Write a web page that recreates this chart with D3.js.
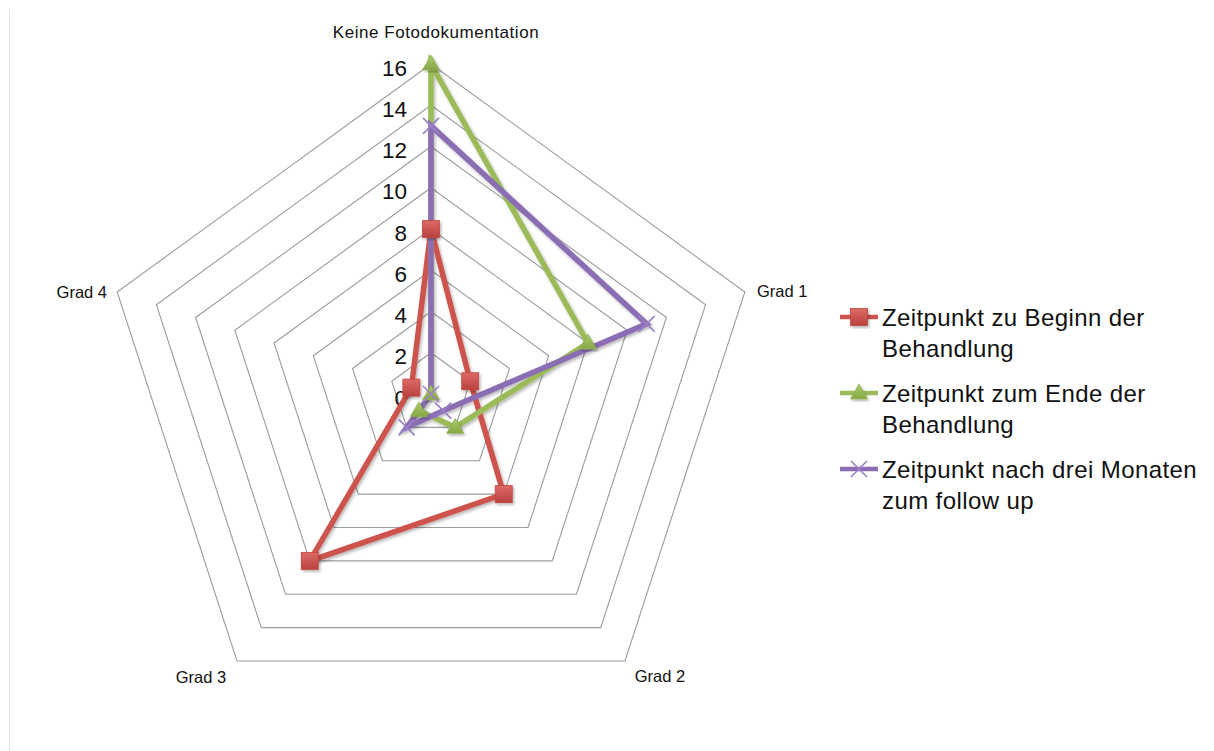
<!DOCTYPE html>
<html>
<head>
<meta charset="utf-8">
<script src="https://cdn.jsdelivr.net/npm/d3@7"></script>
<style>
  html, body { margin: 0; padding: 0; background: #ffffff; }
  svg { display: block; font-family: "Liberation Sans", Arial, Helvetica, sans-serif; }
</style>
</head>
<body>
<svg id="chart" width="1214" height="751"></svg>
<script>
// Radar axes (clockwise from the top)
const categories = ["Keine Fotodokumentation", "Grad 1", "Grad 2", "Grad 3", "Grad 4"];

// Counts per time point
const beginValues  = [8, 2, 6, 10, 1];
const endValues    = [16, 8, 2, 1, 0];
const followValues = [13, 11, 1, 2, 0];

const seriesNames = [
  ["Zeitpunkt zu Beginn der", "Behandlung"],
  ["Zeitpunkt zum Ende der", "Behandlung"],
  ["Zeitpunkt nach drei Monaten", "zum follow up"]
];

const tickValues = [0, 2, 4, 6, 8, 10, 12, 14, 16];

const series = [
  { values: beginValues,  name: seriesNames[0], color: "#cd534e", marker: "square" },
  { values: endValues,    name: seriesNames[1], color: "#9bbb59", marker: "triangle" },
  { values: followValues, name: seriesNames[2], color: "#8a6db3", marker: "cross" }
];

const svg = d3.select("#chart");
const cx = 431, cy = 394, R = 330;

const r = d3.scaleLinear().domain([0, 16]).range([0, R]);
const angle = d3.scaleLinear().domain([0, categories.length]).range([0, 2 * Math.PI]);
const pt = (i, v) => [cx + r(v) * Math.sin(angle(i)), cy - r(v) * Math.cos(angle(i))];

// defs: gradients and soft shadow
const defs = svg.append("defs");
const shadow = defs.append("filter").attr("id", "shadow")
  .attr("x", "-20%").attr("y", "-20%").attr("width", "140%").attr("height", "140%");
shadow.append("feDropShadow").attr("dx", 1.5).attr("dy", 2).attr("stdDeviation", 1.5)
  .attr("flood-color", "#000").attr("flood-opacity", 0.28);

function grad(id, top, bottom) {
  const g = defs.append("linearGradient").attr("id", id)
    .attr("x1", 0).attr("y1", 0).attr("x2", 0).attr("y2", 1);
  g.append("stop").attr("offset", "0%").attr("stop-color", top);
  g.append("stop").attr("offset", "100%").attr("stop-color", bottom);
}
grad("gradRed", "#dc6a65", "#bb423e");
grad("gradGreen", "#aacb6a", "#86a845");

// thin frame line on the left
svg.append("line")
  .attr("x1", 9.5).attr("x2", 9.5).attr("y1", 10).attr("y2", 751)
  .attr("stroke", "#e3e3e3").attr("stroke-width", 1);

// grid rings
const ringLine = d3.line();
svg.append("g").selectAll("path")
  .data(tickValues.filter(t => t > 0))
  .join("path")
  .attr("d", t => ringLine(categories.map((c, i) => pt(i, t))) + "Z")
  .attr("fill", "none")
  .attr("stroke", "#9c9c9c")
  .attr("stroke-width", 1.1);

// value labels along the top axis
svg.append("g").selectAll("text")
  .data(tickValues)
  .join("text")
  .attr("x", cx - 24)
  .attr("y", t => cy - r(t) + 4)
  .attr("text-anchor", "end")
  .attr("dominant-baseline", "central")
  .attr("font-size", 22.5)
  .attr("fill", "#111")
  .text(t => t);

// category labels
const catLabels = [
  { x: 436, y: 38, anchor: "middle", size: 17, ls: 0.55 },
  { x: 757, y: 297, anchor: "start", size: 16.5, ls: 0 },
  { x: 660, y: 682, anchor: "middle", size: 16.5, ls: 0 },
  { x: 201, y: 683, anchor: "middle", size: 16.5, ls: 0 },
  { x: 107, y: 298, anchor: "end", size: 16.5, ls: 0 }
];
svg.append("g").selectAll("text")
  .data(categories)
  .join("text")
  .attr("x", (d, i) => catLabels[i].x)
  .attr("y", (d, i) => catLabels[i].y)
  .attr("text-anchor", (d, i) => catLabels[i].anchor)
  .attr("font-size", (d, i) => catLabels[i].size)
  .attr("letter-spacing", (d, i) => catLabels[i].ls)
  .attr("fill", "#111")
  .text(d => d);

// series lines
const linesG = svg.append("g").attr("filter", "url(#shadow)");
series.forEach(s => {
  linesG.append("path")
    .attr("d", ringLine(s.values.map((v, i) => pt(i, v))) + "Z")
    .attr("fill", "none")
    .attr("stroke", s.color)
    .attr("stroke-width", 5.5)
    .attr("stroke-linejoin", "miter");
});

// marker drawing
function drawMarker(g, type, x, y) {
  if (type === "square") {
    g.append("rect")
      .attr("x", x - 8.5).attr("y", y - 8.5).attr("width", 17).attr("height", 17)
      .attr("fill", "url(#gradRed)").attr("stroke", "#c0463f").attr("stroke-width", 0.8)
      .attr("filter", "url(#shadow)");
  } else if (type === "triangle") {
    const sym = d3.symbol().type(d3.symbolTriangle).size(125);
    g.append("path")
      .attr("d", sym())
      .attr("transform", `translate(${x},${y + 1})`)
      .attr("fill", "url(#gradGreen)").attr("stroke", "#8fae50").attr("stroke-width", 0.8)
      .attr("filter", "url(#shadow)");
  } else {
    const h = 8;
    g.append("path")
      .attr("d", `M${x - h},${y - h}L${x + h},${y + h}M${x - h},${y + h}L${x + h},${y - h}`)
      .attr("stroke", "#9a80c4").attr("stroke-width", 1.6).attr("fill", "none");
  }
}

const markersG = svg.append("g");
series.forEach(s => {
  s.values.forEach((v, i) => {
    const [x, y] = pt(i, v);
    drawMarker(markersG, s.marker, x, y);
  });
});

// legend
const legend = svg.append("g");
const legendTop = [317, 393, 469];
series.forEach((s, k) => {
  const y0 = legendTop[k];
  const g = legend.append("g");
  g.append("line")
    .attr("x1", 840).attr("x2", 878).attr("y1", y0).attr("y2", y0)
    .attr("stroke", s.color).attr("stroke-width", 4.5);
  drawMarker(g, s.marker, 859, y0);
  s.name.forEach((line, j) => {
    g.append("text")
      .attr("x", 882)
      .attr("y", y0 + 9 + j * 30.5)
      .attr("font-size", 24)
      .attr("letter-spacing", 0.4)
      .attr("fill", "#111")
      .text(line);
  });
});
</script>
</body>
</html>
